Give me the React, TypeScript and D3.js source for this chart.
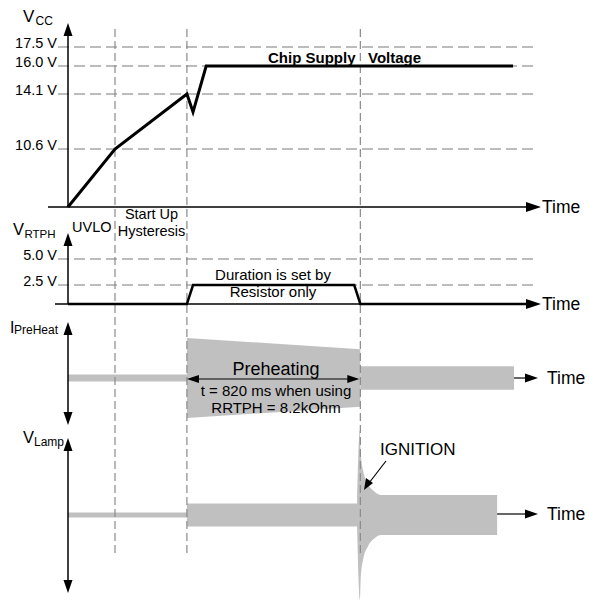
import React from "react";
import * as d3 from "d3";

// ---------- data ----------
// time axis in arbitrary units (0..100)
const phaseTimes = [10, 25.3, 62.2]; // UVLO end, start-up end, ignition

const vccTicks = [17.5, 16.0, 14.1, 10.6];
const vccTickLabels = ["17.5 V", "16.0 V", "14.1 V", "10.6 V"];
const vccTimes = [0, 10, 25.3, 26.6, 29.4, 94.7];
const vccValues = [0, 10.6, 14.1, 12.95, 16, 16];

const rtphTicks = [5.0, 2.5];
const rtphTickLabels = ["5.0 V", "2.5 V"];
const rtphTimes = [0, 25.3, 26.6, 60.9, 62.2, 98];
const rtphValues = [0, 0, 2.5, 2.5, 0, 0];

// preheat current envelope (relative amplitude)
const ipreTimes = [0, 25.3];
const ipreAmps = [0.08, 0.08];
const iheatTimes = [25.3, 62.2];
const iheatAmps = [0.89, 0.64];
const irunTimes = [62.2, 94.9];
const irunAmps = [0.26, 0.26];

// lamp voltage envelope (relative amplitude)
const lpreTimes = [0, 25.3];
const lpreAmps = [0.03, 0.03];
const lheatTimes = [25.3, 61.6];
const lheatAmps = [0.135, 0.135];
const lignTimes = [61.5, 62.1, 62.3, 62.8, 63.8, 65.3, 66.6, 91.3];
const lignAmps = [0.135, 1.0, 0.72, 0.52, 0.37, 0.27, 0.235, 0.235];

const FONT = "'Liberation Sans', Arial, Helvetica, sans-serif";
const GRAY = "#c0c0c0";

const x = d3.scaleLinear().domain([0, 100]).range([68, 538]);
const yVcc = d3.scaleLinear().domain([0, 10.6, 14.1, 16, 17.5]).range([207, 149, 94, 66, 47]);
const yRtph = d3.scaleLinear().domain([0, 2.5, 5]).range([304, 285, 259]);
const yI = d3.scaleLinear().domain([-1, 1]).range([423, 333]);
const yL = d3.scaleLinear().domain([-1, 1]).range([600, 430]);

function zip(t: number[], v: number[]): [number, number][] {
  return t.map((tt, i) => [tt, v[i]]);
}

function Arrow({ tx, ty, dir, len = 13, half = 4.5 }: { tx: number; ty: number; dir: "up" | "down" | "left" | "right"; len?: number; half?: number }) {
  let pts: number[][] = [];
  if (dir === "up") pts = [[tx, ty], [tx - half, ty + len], [tx + half, ty + len]];
  if (dir === "down") pts = [[tx, ty], [tx - half, ty - len], [tx + half, ty - len]];
  if (dir === "right") pts = [[tx, ty], [tx - len, ty - half], [tx - len, ty + half]];
  if (dir === "left") pts = [[tx, ty], [tx + len, ty - half], [tx + len, ty + half]];
  return <polygon points={pts.map((p) => p.join(",")).join(" ")} fill="#000" />;
}

export default function App() {
  const line = d3.line<[number, number]>();
  const vccPath = d3
    .line<[number, number]>()
    .x((d) => x(d[0]))
    .y((d) => yVcc(d[1]))(zip(vccTimes, vccValues));
  const rtphPath = d3
    .line<[number, number]>()
    .x((d) => x(d[0]))
    .y((d) => yRtph(d[1]))(zip(rtphTimes, rtphValues));

  const areaI = d3
    .area<[number, number]>()
    .x((d) => x(d[0]))
    .y0((d) => yI(-d[1]))
    .y1((d) => yI(d[1]));
  const areaL = d3
    .area<[number, number]>()
    .x((d) => x(d[0]))
    .y0((d) => yL(-d[1]))
    .y1((d) => yL(d[1]));
  const areaLCurve = d3
    .area<[number, number]>()
    .x((d) => x(d[0]))
    .y0((d) => yL(-d[1]))
    .y1((d) => yL(d[1]))
    .curve(d3.curveMonotoneX);

  const gridStyle = { stroke: "#a6a6a6", strokeWidth: 1.5, strokeDasharray: "11,5", fill: "none" };

  return (
    <svg width={589} height={601} style={{ position: "fixed", left: 0, top: 0, background: "#fff" }} fontFamily={FONT}>
      {/* horizontal grid lines */}
      {vccTicks.map((v, i) => (
        <g key={"vg" + i}>
          <line x1={58} x2={534} y1={yVcc(v)} y2={yVcc(v)} {...gridStyle} />
          <text x={57} y={yVcc(v) + 0.5} textAnchor="end" fontSize={14.5}>
            {vccTickLabels[i]}
          </text>
        </g>
      ))}
      {rtphTicks.map((v, i) => (
        <g key={"rg" + i}>
          <line x1={58} x2={534} y1={yRtph(v)} y2={yRtph(v)} {...gridStyle} />
          <text x={57} y={yRtph(v) + 0.5} textAnchor="end" fontSize={14.5}>
            {rtphTickLabels[i]}
          </text>
        </g>
      ))}

      {/* envelopes */}
      <path d={areaI(zip(ipreTimes, ipreAmps)) || ""} fill={GRAY} />
      <path d={areaI(zip(iheatTimes, iheatAmps)) || ""} fill={GRAY} />
      <path d={areaI(zip(irunTimes, irunAmps)) || ""} fill={GRAY} />
      <path d={areaL(zip(lpreTimes, lpreAmps)) || ""} fill={GRAY} />
      <path d={areaL(zip(lheatTimes, lheatAmps)) || ""} fill={GRAY} />
      <path d={areaLCurve(zip(lignTimes, lignAmps)) || ""} fill={GRAY} />

      {/* vertical dashed phase lines */}
      {phaseTimes.map((t, i) => (
        <line key={"ph" + i} x1={x(t)} x2={x(t)} y1={29} y2={556} stroke="#8a8a8a" strokeWidth={1.2} strokeDasharray="8,4" />
      ))}

      {/* panel 1 axes */}
      <line x1={x(0)} x2={x(0)} y1={207} y2={34} stroke="#000" strokeWidth={1.5} />
      <Arrow tx={x(0)} ty={23} dir="up" />
      <line x1={48} x2={528} y1={207} y2={207} stroke="#000" strokeWidth={1.5} />
      <Arrow tx={541} ty={207} dir="right" len={15} half={5} />
      <text x={542} y={213} fontSize={17.5}>Time</text>
      <path d={vccPath || ""} fill="none" stroke="#000" strokeWidth={3} strokeLinejoin="miter" />
      <text x={268} y={63} fontSize={15} fontWeight="bold">Chip Supply</text>
      <text x={368} y={63} fontSize={15} fontWeight="bold">Voltage</text>
      <text x={23} y={22} fontSize={17}>V</text>
      <text x={35.5} y={25} fontSize={12}>CC</text>

      {/* panel 2 */}
      <line x1={x(0)} x2={x(0)} y1={304} y2={244} stroke="#000" strokeWidth={1.5} />
      <Arrow tx={x(0)} ty={233} dir="up" />
      <line x1={55} x2={528} y1={304} y2={304} stroke="#000" strokeWidth={1.5} />
      <Arrow tx={541} ty={304} dir="right" len={15} half={5} />
      <text x={542} y={310} fontSize={17.5}>Time</text>
      <path d={rtphPath || ""} fill="none" stroke="#000" strokeWidth={2.5} />
      <text x={13} y={235} fontSize={16.5}>V</text>
      <text x={24.5} y={238} fontSize={11.5}>RTPH</text>
      <text x={72} y={232} fontSize={14.5}>UVLO</text>
      <text x={151.5} y={219} fontSize={14.5} textAnchor="middle">Start Up</text>
      <text x={151.5} y={236} fontSize={14.5} textAnchor="middle">Hysteresis</text>
      <text x={273} y={280} fontSize={15} textAnchor="middle">Duration is set by</text>
      <text x={273} y={297} fontSize={15} textAnchor="middle">Resistor only</text>

      {/* panel 3 */}
      <line x1={x(0)} x2={x(0)} y1={333} y2={414} stroke="#000" strokeWidth={1.5} />
      <Arrow tx={x(0)} ty={322} dir="up" />
      <Arrow tx={x(0)} ty={425} dir="down" />
      <line x1={x(irunTimes[1])} x2={528} y1={378} y2={378} stroke="#000" strokeWidth={1.2} />
      <Arrow tx={538} ty={378} dir="right" len={13} half={4.5} />
      <text x={547} y={384} fontSize={17.5}>Time</text>
      <text x={10} y={333} fontSize={16}>I</text>
      <text x={14} y={334} fontSize={12}>PreHeat</text>
      <line x1={x(phaseTimes[1]) + 10} x2={x(phaseTimes[2]) - 10} y1={379} y2={379} stroke="#000" strokeWidth={1.2} />
      <Arrow tx={x(phaseTimes[1])} ty={379} dir="left" len={12} half={4} />
      <Arrow tx={x(phaseTimes[2]) - 1} ty={379} dir="right" len={12} half={4} />
      <text x={276} y={375} fontSize={18} textAnchor="middle">Preheating</text>
      <text x={276} y={396} fontSize={15} textAnchor="middle">t = 820 ms when using</text>
      <text x={276} y={413} fontSize={15} textAnchor="middle">RRTPH = 8.2kOhm</text>

      {/* panel 4 */}
      <line x1={x(0)} x2={x(0)} y1={449} y2={582} stroke="#000" strokeWidth={1.5} />
      <Arrow tx={x(0)} ty={438} dir="up" />
      <Arrow tx={x(0)} ty={593} dir="down" />
      <line x1={x(lignTimes[lignTimes.length - 1])} x2={528} y1={514} y2={514} stroke="#000" strokeWidth={1.2} />
      <Arrow tx={538} ty={514} dir="right" len={13} half={4.5} />
      <text x={547} y={520} fontSize={17.5}>Time</text>
      <text x={23} y={443} fontSize={16.5}>V</text>
      <text x={34} y={446} fontSize={12}>Lamp</text>
      <text x={380} y={455} fontSize={17}>IGNITION</text>
      <path d={line([[386, 461], [369, 483]]) || ""} stroke="#000" strokeWidth={1.2} />
      <polygon points="364,490 366,478 373,483" fill="#000" />
    </svg>
  );
}
